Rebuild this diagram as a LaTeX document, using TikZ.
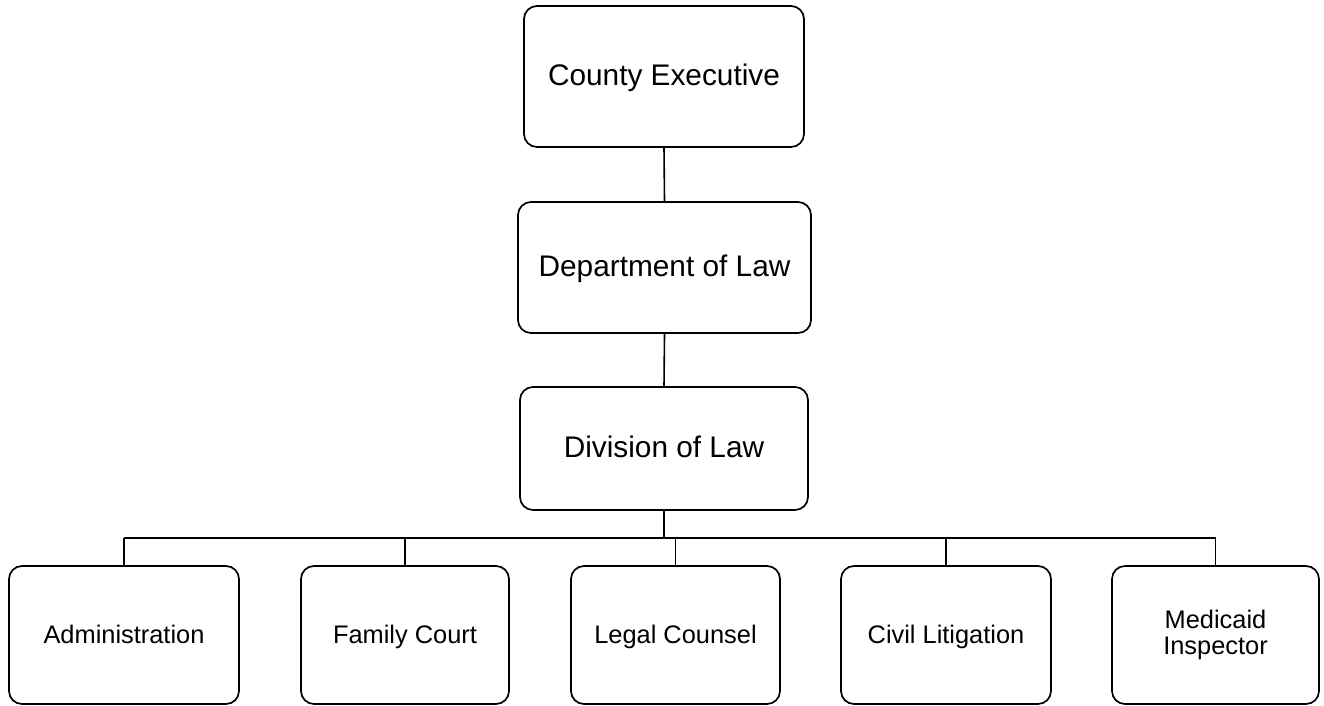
\documentclass[tikz,border=0pt]{standalone}
\usepackage{fontspec}
\setmainfont{Liberation Sans}
\begin{document}
\begin{tikzpicture}[x=1pt,y=-1pt,
  box/.style={draw=black, line width=1.7pt, rounded corners=13pt, fill=white,
              inner sep=0pt},
  upper/.style={box, font=\fontsize{29.8}{33}\selectfont,
                text height=21.5pt, text depth=3pt},
  lower/.style={box, minimum height=138pt, font=\fontsize{25.4}{26}\selectfont},
  oneline/.style={lower, text height=18.3pt, text depth=2pt},
  link/.style={line width=1.6pt}]
  \useasboundingbox (0,0) rectangle (1324,705);

  % upper chain
  \node[upper, minimum width=280pt, minimum height=141pt] (ce)   at (664,76.5)  {County Executive};
  \node[upper, minimum width=293pt, minimum height=131pt] (dept) at (664.5,267.5) {Department of Law};
  \node[upper, minimum width=288pt, minimum height=123pt] (div)  at (664,448.5) {Division of Law};

  % lower row
  \node[oneline, minimum width=230pt] (admin)  at (124,635)    {Administration};
  \node[oneline, minimum width=208pt] (family) at (405,635)    {Family Court};
  \node[oneline, minimum width=209pt] (legal)  at (675.5,635)  {Legal Counsel};
  \node[oneline, minimum width=210pt] (civil)  at (946,635)    {Civil Litigation};
  \node[lower, align=center, minimum width=207pt] (med) at (1215.5,635) {Medicaid\\Inspector};

  % connectors
  \draw[link] (ce.south) -- (dept.north);
  \draw[link] (dept.south) -- (div.north);
  \coordinate (bus) at (664,538);
  \draw[link] (div.south) -- (bus);
  \draw[link] (bus -| admin.north) -- (bus -| med.north);
  \foreach \n in {admin,family,legal,civil,med}
    \draw[link] (bus -| \n.north) -- (\n.north);
\end{tikzpicture}
\end{document}
